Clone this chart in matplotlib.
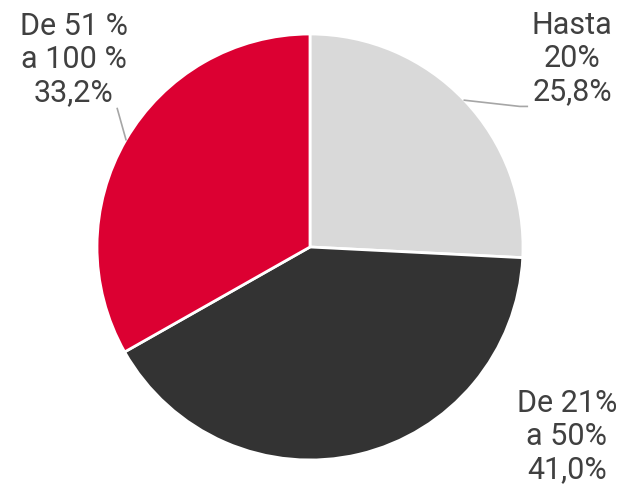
import numpy as np
import matplotlib.pyplot as plt

# ===== Data =====
labels = ['Hasta\n20%', 'De 21%\na 50%', 'De 51 %\na 100 %']
values = [25.8, 41.0, 33.2]
value_text = ['25,8%', '41,0%', '33,2%']
colors = ['#D9D9D9', '#333333', '#DC0032']

plt.rcParams['font.family'] = ['Roboto', 'DejaVu Sans']

fig = plt.figure(figsize=(6.24, 4.92), dpi=100)
W, H = 624, 492
cx, cy, r = 310, 247, 213
ax = fig.add_axes([(cx - r) / W, (H - cy - r) / H, 2 * r / W, 2 * r / H])

wedges, _ = ax.pie(values, colors=colors, startangle=90, counterclock=False,
                   wedgeprops=dict(edgecolor='white', linewidth=2))
ax.set_xlim(-1, 1)
ax.set_ylim(-1, 1)
ax.set_aspect('equal')
ax.axis('off')

# label positions (in pie radius units)
label_pos = [(1.23, 0.885), (1.206, -0.89), (-1.108, 0.88)]
for i, (lab, vt) in enumerate(zip(labels, value_text)):
    ax.text(label_pos[i][0], label_pos[i][1], f'{lab}\n{vt}', ha='center', va='center',
            fontsize=22, color='#404040', linespacing=1.17, clip_on=False)

# leader lines
lc = '#A6A6A6'
w = wedges[0]
ang = np.deg2rad((w.theta1 + w.theta2) / 2)
x0, y0 = 1.0 * np.cos(ang), 1.0 * np.sin(ang)
ax.plot([x0, 0.985, 1.02], [y0, 0.66, 0.66], color=lc, lw=1.2, clip_on=False)

w = wedges[2]
ang = np.deg2rad((w.theta1 + w.theta2) / 2)
x0, y0 = 1.0 * np.cos(ang), 1.0 * np.sin(ang)
ax.plot([x0, -0.905], [y0, 0.65], color=lc, lw=1.2, clip_on=False)

fig.savefig('out.png', dpi=100)
